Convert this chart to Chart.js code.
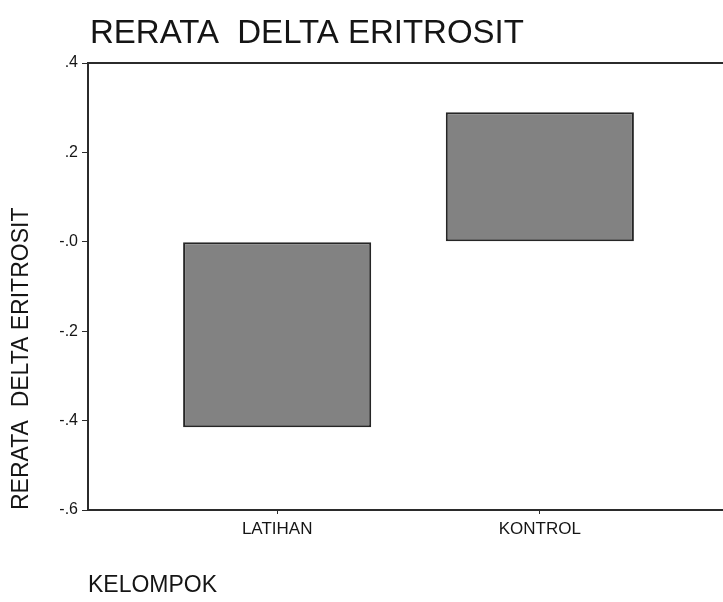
<!DOCTYPE html>
<html>
<head>
<meta charset="utf-8">
<title>Rerata Delta Eritrosit</title>
<script src="https://cdn.jsdelivr.net/npm/chart.js@4.4.1/dist/chart.umd.min.js"></script>
<style>
  html, body { margin: 0; padding: 0; background: #fff; overflow: hidden; }
  #wrap { position: relative; width: 740px; height: 602px; }
</style>
</head>
<body>
<div id="wrap"><canvas id="chart"></canvas></div>
<script>
// data
const categories = ['LATIHAN', 'KONTROL'];
const meanDelta = [-0.415, 0.29];
const yTickValues = [-0.6, -0.4, -0.2, 0, 0.2, 0.4];
const yTickLabels = ['-.6', '-.4', '-.2', '-.0', '.2', '.4'];

const FONT = "'Liberation Sans', Arial, Helvetica, sans-serif";
const INK = '#151515';
const LINE = '#2b2b2b';

// title + top/right frame lines, drawn from the chart area
const frame = {
  id: 'frame',
  afterDraw(chart) {
    const { ctx, chartArea: a } = chart;
    ctx.save();
    ctx.strokeStyle = LINE;
    ctx.lineWidth = 2;
    ctx.beginPath();
    ctx.moveTo(a.left, a.top);
    ctx.lineTo(a.right, a.top);
    ctx.lineTo(a.right, a.bottom);
    ctx.stroke();
    ctx.fillStyle = INK;
    ctx.font = '33px ' + FONT;
    ctx.textBaseline = 'alphabetic';
    ctx.fillText('RERATA  DELTA ERITROSIT', a.left + 2, 43);
    ctx.restore();
  },
};

new Chart(document.getElementById('chart'), {
  type: 'bar',
  data: {
    datasets: [
      {
        label: 'RERATA DELTA ERITROSIT',
        data: categories.map((c, i) => ({ x: i, y: meanDelta[i] })),
        backgroundColor: '#828282',
        borderColor: '#262626',
        borderWidth: 2,
        borderSkipped: false,
        categoryPercentage: 1,
        barPercentage: 0.716,
      },
    ],
  },
  options: {
    responsive: true,
    maintainAspectRatio: false,
    animation: false,
    layout: { padding: { top: 63, right: 11, bottom: 0, left: 0 } },
    plugins: { legend: { display: false }, tooltip: { enabled: false } },
    scales: {
      x: {
        type: 'linear',
        min: -0.72,
        max: 1.72,
        offset: false,
        afterBuildTicks: (s) => { s.ticks = categories.map((c, i) => ({ value: i })); },
        afterFit: (s) => { s.height = 92; },
        ticks: {
          callback: (v, i) => categories[i],
          color: INK,
          font: { family: FONT, size: 17 },
          padding: 5,
          maxRotation: 0,
        },
        grid: { offset: false, drawOnChartArea: false, drawTicks: true, tickLength: 4, color: LINE },
        border: { display: true, color: LINE, width: 2 },
        title: {
          display: true,
          text: 'KELOMPOK',
          align: 'start',
          color: INK,
          font: { family: FONT, size: 23 },
          padding: { top: 0, bottom: 3 },
        },
      },
      y: {
        min: -0.6,
        max: 0.4,
        afterBuildTicks: (s) => { s.ticks = yTickValues.map((v) => ({ value: v })); },
        afterFit: (s) => { s.width = 88; },
        ticks: {
          callback: (v, i) => yTickLabels[i],
          color: INK,
          font: { family: FONT, size: 16 },
          padding: 4,
        },
        grid: { drawOnChartArea: false, drawTicks: true, tickLength: 6, color: LINE },
        border: { display: true, color: LINE, width: 2 },
        title: {
          display: true,
          text: 'RERATA  DELTA ERITROSIT',
          align: 'start',
          color: INK,
          font: { family: FONT, size: 23 },
          padding: { top: 8, bottom: 0 },
        },
      },
    },
  },
  plugins: [frame],
});
</script>
</body>
</html>
